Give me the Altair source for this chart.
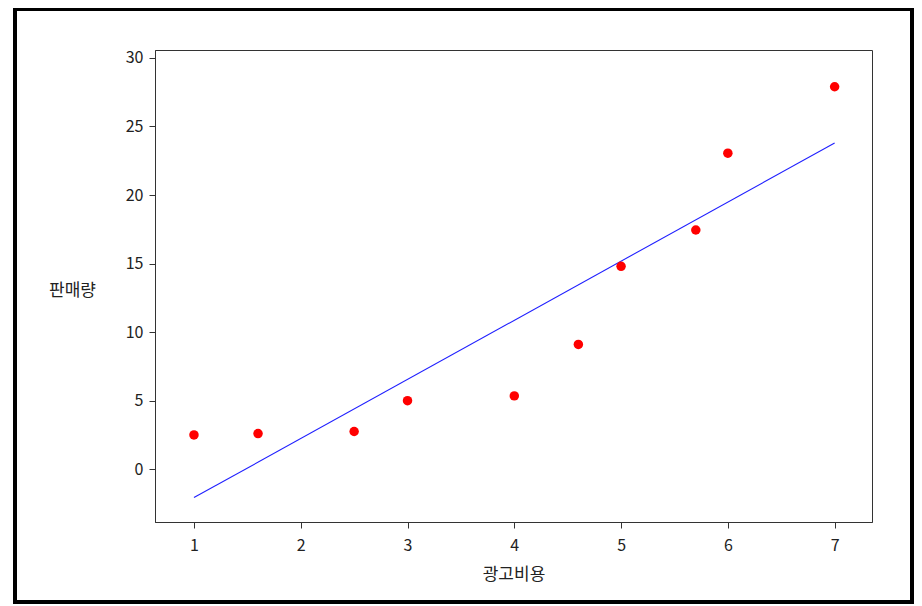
import altair as alt
import pandas as pd

# data
ad_cost = [1, 1.6, 2.5, 3, 4, 4.6, 5, 5.7, 6, 7]
sales = [2.5, 2.6, 2.75, 5.0, 5.35, 9.1, 14.8, 17.45, 23.05, 27.9]
fit_x = [1, 7]
fit_y = [-2.07, 23.8]
x_ticks = [1, 2, 3, 4, 5, 6, 7]
y_ticks = [0, 5, 10, 15, 20, 25, 30]

pts = pd.DataFrame({"x": ad_cost, "y": sales})
fit = pd.DataFrame({"x": fit_x, "y": fit_y})

FONT = "Noto Sans CJK KR"
xscale = alt.Scale(domain=[0.635, 7.35], nice=False, zero=False)
yscale = alt.Scale(domain=[-3.85, 30.58], nice=False, zero=False)

xaxis = alt.Axis(values=x_ticks, title="광고비용", grid=False, tickSize=6,
                 labelPadding=9, titlePadding=13, format="d")
yaxis = alt.Axis(values=y_ticks, title="판매량", grid=False, tickSize=6,
                 labelPadding=6, titleAngle=0, titleAlign="center",
                 titleBaseline="middle", titleX=-83, titleY=240, format="d")

points = alt.Chart(pts).mark_circle(size=90, color="#ff0000", opacity=1).encode(
    x=alt.X("x:Q", scale=xscale, axis=xaxis),
    y=alt.Y("y:Q", scale=yscale, axis=yaxis),
)

line = alt.Chart(fit).mark_line(color="#2020ff", strokeWidth=1.1).encode(
    x=alt.X("x:Q", scale=xscale),
    y=alt.Y("y:Q", scale=yscale),
)

frame = alt.Chart(pd.DataFrame({"a": [0]})).mark_rect(
    fill=None, stroke="#000000", strokeWidth=4, clip=False
).encode(
    x=alt.value(-140), x2=alt.value(757),
    y=alt.value(-41), y2=alt.value(552),
)

chart = alt.layer(frame, line, points).properties(
    width=717, height=472,
    autosize=alt.AutoSizeParams(type="none"),
    padding={"left": 147, "top": 42, "right": 42, "bottom": 83},
    background="white",
).configure_view(
    stroke="#333333", strokeWidth=1
).configure_axis(
    labelFont=FONT, titleFont=FONT, labelFontSize=16, titleFontSize=17,
    labelColor="#222222", titleColor="#222222", titleFontWeight="normal",
    domainColor="#333333", tickColor="#333333", domainWidth=1, tickWidth=1,
)

chart.save("out.html", embed_options={"renderer": "svg", "actions": False})
